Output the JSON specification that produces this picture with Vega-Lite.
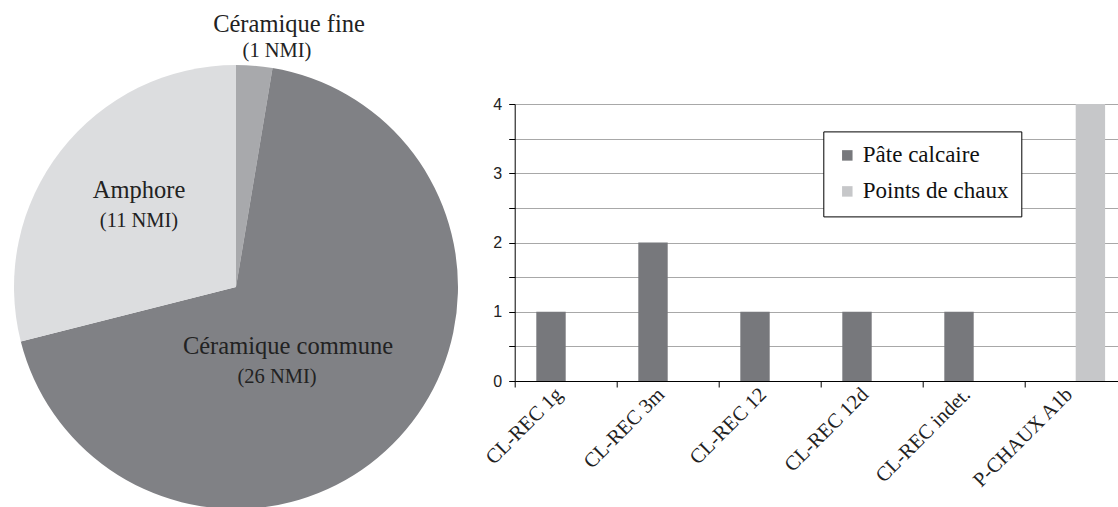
{
  "$schema": "https://vega.github.io/schema/vega-lite/v6.json",
  "padding": {"left": 14, "top": 12, "right": 0, "bottom": 0},
  "spacing": 56.7,
  "bounds": "flush",
  "resolve": {"scale": {"color": "independent"}, "legend": {"color": "independent"}},
  "config": {
    "view": {"stroke": null},
    "font": "Liberation Serif, Times New Roman, serif",
    "legend": {"labelFont": "Liberation Serif, Times New Roman, serif"}
  },
  "hconcat": [
    {
      "width": 444,
      "height": 366,
      "data": {"values": [
        {"type": "Céramique fine", "n": 1, "ord": 1, "lab": "(1 NMI)"},
        {"type": "Céramique commune", "n": 26, "ord": 2, "lab": "(26 NMI)"},
        {"type": "Amphore", "n": 11, "ord": 3, "lab": "(11 NMI)"}
      ]},
      "layer": [
        {
          "mark": {"type": "arc", "outerRadius": 222},
          "encoding": {
            "theta": {"field": "n", "type": "quantitative", "stack": true},
            "order": {"field": "ord", "type": "quantitative"},
            "color": {"field": "type", "type": "nominal", "legend": null,
              "scale": {"domain": ["Céramique fine", "Céramique commune", "Amphore"], "range": ["#a8a9ac", "#808185", "#dcdddf"]}}
          }
        },
        {
          "transform": [{"filter": "datum.type === 'Céramique fine'"}],
          "mark": {"type": "text", "font": "Liberation Serif, Times New Roman, serif", "fontSize": 24.5, "dx": 53, "dy": -255, "color": "#222", "align": "center", "baseline": "alphabetic"},
          "encoding": {"text": {"field": "type"}}
        },
        {
          "transform": [{"filter": "datum.type === 'Céramique fine'"}],
          "mark": {"type": "text", "font": "Liberation Serif, Times New Roman, serif", "fontSize": 20.5, "dx": 41, "dy": -230, "color": "#222", "align": "center", "baseline": "alphabetic"},
          "encoding": {"text": {"field": "lab"}}
        },
        {
          "transform": [{"filter": "datum.type === 'Amphore'"}],
          "mark": {"type": "text", "font": "Liberation Serif, Times New Roman, serif", "fontSize": 24.5, "dx": -97, "dy": -89, "color": "#222", "align": "center", "baseline": "alphabetic"},
          "encoding": {"text": {"field": "type"}}
        },
        {
          "transform": [{"filter": "datum.type === 'Amphore'"}],
          "mark": {"type": "text", "font": "Liberation Serif, Times New Roman, serif", "fontSize": 20.5, "dx": -97, "dy": -60, "color": "#222", "align": "center", "baseline": "alphabetic"},
          "encoding": {"text": {"field": "lab"}}
        },
        {
          "transform": [{"filter": "datum.type === 'Céramique commune'"}],
          "mark": {"type": "text", "font": "Liberation Serif, Times New Roman, serif", "fontSize": 24.5, "dx": 52, "dy": 67, "color": "#222", "align": "center", "baseline": "alphabetic"},
          "encoding": {"text": {"field": "type"}}
        },
        {
          "transform": [{"filter": "datum.type === 'Céramique commune'"}],
          "mark": {"type": "text", "font": "Liberation Serif, Times New Roman, serif", "fontSize": 20.5, "dx": 41, "dy": 96, "color": "#222", "align": "center", "baseline": "alphabetic"},
          "encoding": {"text": {"field": "lab"}}
        }
      ]
    },
    {
      "width": 604,
      "height": 277,
      "data": {"values": [
        {"cat": "CL-REC 1g", "series": "Pâte calcaire", "value": 1},
        {"cat": "CL-REC 3m", "series": "Pâte calcaire", "value": 2},
        {"cat": "CL-REC 12", "series": "Pâte calcaire", "value": 1},
        {"cat": "CL-REC 12d", "series": "Pâte calcaire", "value": 1},
        {"cat": "CL-REC indet.", "series": "Pâte calcaire", "value": 1},
        {"cat": "P-CHAUX A1b", "series": "Points de chaux", "value": 4}
      ]},
      "mark": {"type": "bar"},
      "encoding": {
        "x": {
          "field": "cat", "type": "nominal", "sort": null,
          "scale": {"range": [0, 612], "paddingInner": 0, "paddingOuter": 0},
          "axis": {
            "title": null, "labelAngle": -45, "labelAlign": "right", "labelBaseline": "middle",
            "labelFont": "Liberation Serif, Times New Roman, serif", "labelFontSize": 20.5, "labelColor": "#222",
            "labelPadding": 4, "labelOffset": -7, "tickBand": "extent", "tickSize": 6, "tickColor": "#000",
            "domainColor": "#000", "grid": false
          }
        },
        "xOffset": {
          "field": "series", "type": "nominal",
          "scale": {"domain": ["Pâte calcaire", "Points de chaux"], "paddingInner": 0, "paddingOuter": 0.735}
        },
        "y": {
          "field": "value", "type": "quantitative",
          "scale": {"domain": [0, 4], "nice": false},
          "axis": {
            "title": null, "values": [0, 0.5, 1, 1.5, 2, 2.5, 3, 3.5, 4],
            "labelExpr": "datum.value % 1 === 0 ? '' + datum.value : ''",
            "labelFont": "Liberation Sans, Arial, sans-serif", "labelFontSize": 16, "labelColor": "#222",
            "labelPadding": 7, "tickSize": 6, "tickColor": "#000", "domainColor": "#000",
            "grid": true, "gridColor": "#a8a8a8"
          }
        },
        "color": {
          "field": "series", "type": "nominal",
          "scale": {"domain": ["Pâte calcaire", "Points de chaux"], "range": ["#77787c", "#c6c7c9"]},
          "legend": {
            "title": null, "orient": "none", "legendX": 308.6, "legendY": 27.4,
            "strokeColor": "#000", "fillColor": "#fff", "padding": 12.5, "cornerRadius": 0,
            "symbolType": "square", "symbolSize": 110, "symbolStrokeWidth": 0, "symbolOffset": 0,
            "labelFont": "Liberation Serif, Times New Roman, serif", "labelFontSize": 23, "labelColor": "#111",
            "labelOffset": 4, "rowPadding": 12
          }
        }
      }
    }
  ]
}
